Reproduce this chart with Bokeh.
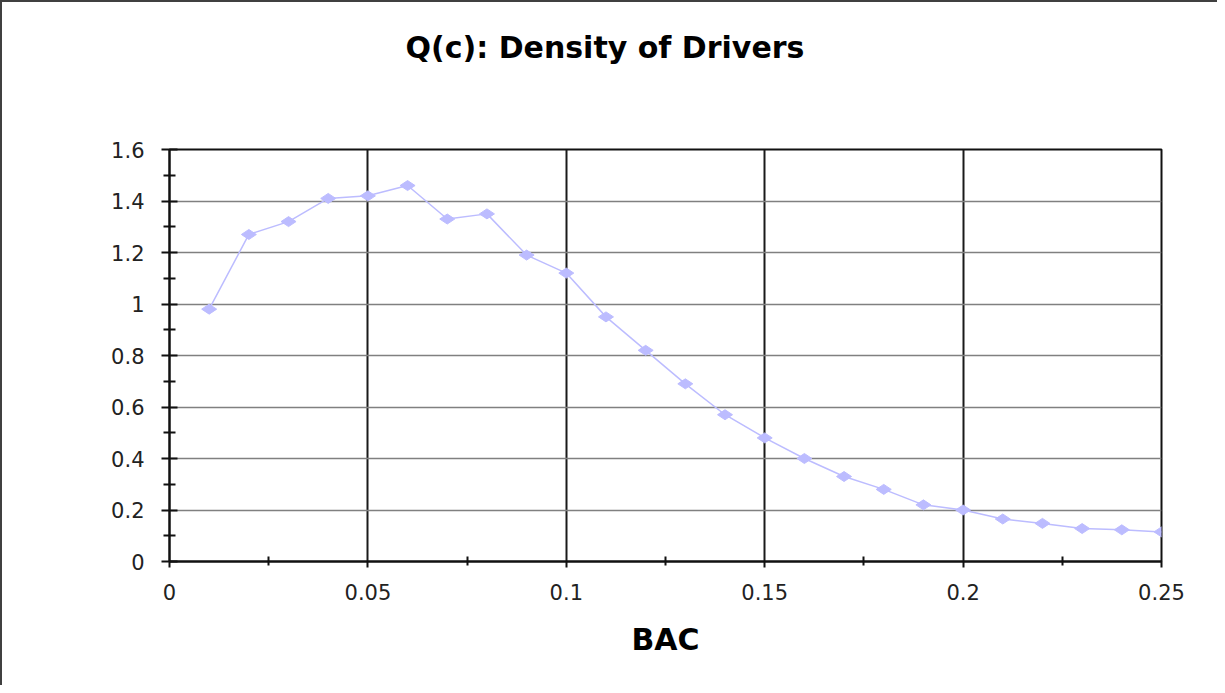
import math
from bokeh.plotting import figure
from bokeh.models import FixedTicker, Range1d
from bokeh.embed import file_html
from bokeh.resources import INLINE

# ---- data ----
bac = [0.01, 0.02, 0.03, 0.04, 0.05, 0.06, 0.07, 0.08, 0.09, 0.10,
       0.11, 0.12, 0.13, 0.14, 0.15, 0.16, 0.17, 0.18, 0.19, 0.20,
       0.21, 0.22, 0.23, 0.24, 0.25]
density = [0.98, 1.27, 1.32, 1.41, 1.42, 1.46, 1.33, 1.35, 1.19, 1.12,
           0.95, 0.82, 0.69, 0.57, 0.48, 0.40, 0.33, 0.28, 0.22, 0.20,
           0.165, 0.148, 0.128, 0.123, 0.115]

x_ticks = [0, 0.05, 0.1, 0.15, 0.2, 0.25]
x_tick_labels = ["0", "0.05", "0.1", "0.15", "0.2", "0.25"]
y_ticks = [0, 0.2, 0.4, 0.6, 0.8, 1.0, 1.2, 1.4, 1.6]
y_tick_labels = ["0", "0.2", "0.4", "0.6", "0.8", "1", "1.2", "1.4", "1.6"]

title_text = "Q(c): Density of Drivers"
x_label = "BAC"

x_minor = [(a + b) / 2 for a, b in zip(x_ticks[:-1], x_ticks[1:])]
y_minor = [(a + b) / 2 for a, b in zip(y_ticks[:-1], y_ticks[1:])]

p = figure(width=1217, height=685, output_backend="svg", toolbar_location=None,
           x_range=Range1d(x_ticks[0], x_ticks[-1]),
           y_range=Range1d(y_ticks[0], y_ticks[-1]),
           min_border_left=167, min_border_right=58,
           min_border_top=147, min_border_bottom=126,
           title=title_text)

p.background_fill_color = "white"
p.border_fill_color = "white"
p.outline_line_color = "#111111"
p.outline_line_width = 2
p.styles = {"border-left": "2px solid #404040", "border-top": "2px solid #404040"}

# title
p.title.align = "left"
p.title.offset = 236
p.title.standoff = 0
p.title.padding = dict(left=0, right=0, top=0, bottom=85)
p.title.text_font = "DejaVu Sans"
p.title.text_font_style = "bold"
p.title.text_font_size = "30px"
p.title.text_color = "black"

# axes
p.xaxis.ticker = FixedTicker(ticks=x_ticks, minor_ticks=x_minor)
p.yaxis.ticker = FixedTicker(ticks=y_ticks, minor_ticks=y_minor)
p.xaxis.major_label_overrides = dict(zip(x_ticks, x_tick_labels))
p.yaxis.major_label_overrides = dict(zip(y_ticks, y_tick_labels))

for ax in (p.xaxis, p.yaxis):
    ax.axis_line_color = "#111111"
    ax.axis_line_width = 2
    ax.major_tick_line_color = "#111111"
    ax.major_tick_line_width = 2
    ax.minor_tick_line_color = "#111111"
    ax.minor_tick_line_width = 2
    ax.major_label_text_font = "DejaVu Sans"
    ax.major_label_text_font_size = "21px"
    ax.major_label_text_color = "#222222"

p.xaxis.major_tick_in = 0
p.xaxis.major_tick_out = 6
p.xaxis.minor_tick_in = 5
p.xaxis.minor_tick_out = 4
p.xaxis.major_label_standoff = 16
p.xaxis.axis_label = x_label
p.xaxis.axis_label_text_font = "DejaVu Sans"
p.xaxis.axis_label_text_font_style = "bold"
p.xaxis.axis_label_text_font_size = "30px"
p.xaxis.axis_label_text_color = "black"
p.xaxis.axis_label_standoff = 19

p.yaxis.major_tick_in = 8
p.yaxis.major_tick_out = 8
p.yaxis.minor_tick_in = 6
p.yaxis.minor_tick_out = 6
p.yaxis.major_label_standoff = 17

# grids
p.xgrid.grid_line_color = "#1a1a1a"
p.xgrid.grid_line_width = 2
p.ygrid.grid_line_color = "#808080"
p.ygrid.grid_line_width = 1.5

# series
series_color = "#bcbcff"
p.line(bac, density, line_color=series_color, line_width=1.5)
p.scatter(bac, density, marker="diamond", size=15, angle=math.pi / 2,
          fill_color=series_color, line_color=series_color)

open("out.html", "w").write(file_html(p, INLINE))
